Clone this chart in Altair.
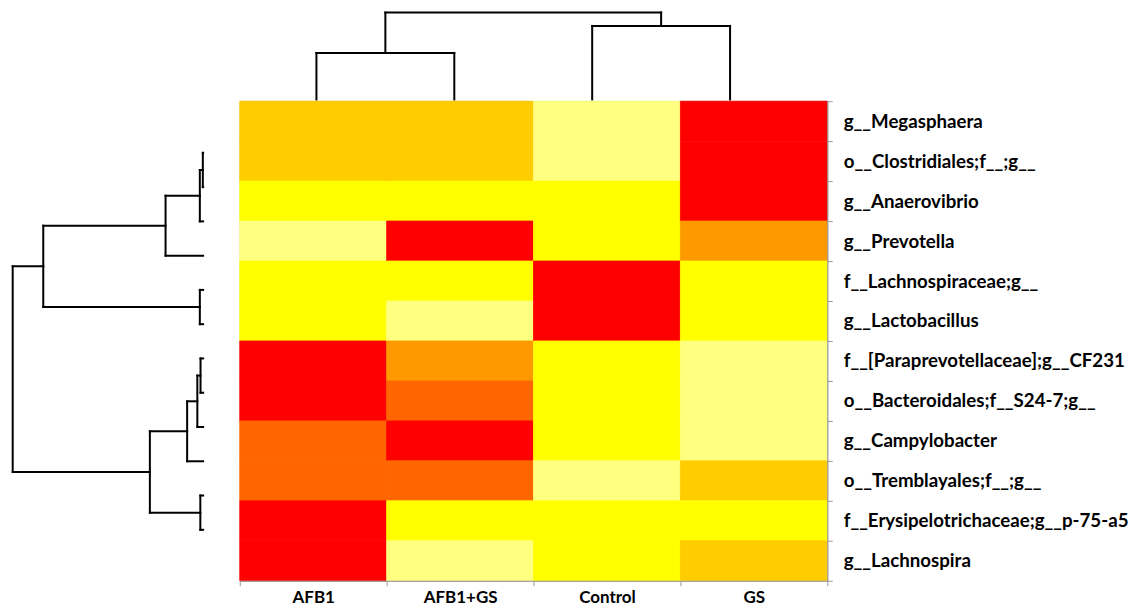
import altair as alt
import pandas as pd

# ---------------- data ----------------
columns = ["AFB1", "AFB1+GS", "Control", "GS"]
taxa = [
    "g__Megasphaera",
    "o__Clostridiales;f__;g__",
    "g__Anaerovibrio",
    "g__Prevotella",
    "f__Lachnospiraceae;g__",
    "g__Lactobacillus",
    "f__[Paraprevotellaceae];g__CF231",
    "o__Bacteroidales;f__S24-7;g__",
    "g__Campylobacter",
    "o__Tremblayales;f__;g__",
    "f__Erysipelotrichaceae;g__p-75-a5",
    "g__Lachnospira",
]
# colour level of each cell (0 = lowest / pale yellow ... 5 = highest / red)
level_afb1 = [2, 2, 1, 0, 1, 1, 5, 5, 4, 4, 5, 5]
level_afb1_gs = [2, 2, 1, 5, 1, 0, 3, 4, 5, 4, 1, 0]
level_control = [0, 0, 1, 1, 5, 5, 1, 1, 1, 0, 1, 1]
level_gs = [5, 5, 5, 3, 1, 1, 0, 0, 0, 2, 1, 2]

levels = [0, 1, 2, 3, 4, 5]
level_colors = ["#FFFF80", "#FFFF00", "#FFCC00", "#FF9900", "#FF6600", "#FF0000"]

# row dendrogram: (left node, right node, merge height); leaves are 0..11
row_left = [0, 12, 13, 4, 14, 6, 17, 18, 10, 19, 16]
row_right = [1, 2, 3, 5, 15, 7, 8, 9, 11, 20, 21]
row_height = [0.3, 3.3, 37.6, 3.3, 160.0, 2.6, 5.8, 16.0, 2.8, 53.3, 190.6]

# column dendrogram: leaves 0..3 (AFB1, AFB1+GS, Control, GS)
col_left = [0, 2, 4]
col_right = [1, 3, 5]
col_height = [46.6, 73.6, 87.0]


def dendro_segments(n_leaves, lefts, rights, heights):
    pos = {i: float(i) for i in range(n_leaves)}
    hgt = {i: 0.0 for i in range(n_leaves)}
    segs = []
    for k, (a, b, h) in enumerate(zip(lefts, rights, heights)):
        node = n_leaves + k
        segs.append(dict(p1=pos[a], p2=pos[b], h1=h, h2=h))
        segs.append(dict(p1=pos[a], p2=pos[a], h1=hgt[a], h2=h))
        segs.append(dict(p1=pos[b], p2=pos[b], h1=hgt[b], h2=h))
        pos[node] = (pos[a] + pos[b]) / 2
        hgt[node] = h
    return pd.DataFrame(segs)


row_segs = dendro_segments(len(taxa), row_left, row_right, row_height)
col_segs = dendro_segments(len(columns), col_left, col_right, col_height)

cells = pd.DataFrame(
    {
        "taxon": taxa * 4,
        "group": sum([[c] * len(taxa) for c in columns], []),
        "level": level_afb1 + level_afb1_gs + level_control + level_gs,
    }
)

FONT = "Lato"
LEFT_W = 232
TOP_H = 93
HEAT_W = 588
HEAT_H = 480

# ---------------- heatmap ----------------
heat = (
    alt.Chart(cells)
    .mark_rect(strokeWidth=0.8)
    .encode(
        x=alt.X(
            "group:N",
            sort=columns,
            scale=alt.Scale(paddingInner=0, paddingOuter=0),
            axis=alt.Axis(
                title=None,
                orient="bottom",
                labelAngle=0,
                labelFont=FONT,
                labelFontWeight="bold",
                labelFontSize=17,
                labelColor="#000000",
                labelPadding=4,
                domainColor="#9a9a9a",
                tickColor="#9a9a9a",
                tickSize=5,
                tickBand="extent",
                grid=False,
            ),
        ),
        y=alt.Y(
            "taxon:N",
            sort=taxa,
            scale=alt.Scale(paddingInner=0, paddingOuter=0),
            axis=alt.Axis(
                title=None,
                orient="right",
                labelFont=FONT,
                labelFontWeight="bold",
                labelFontSize=18.7,
                labelColor="#000000",
                labelPadding=11,
                labelLimit=400,
                domainColor="#9a9a9a",
                tickColor="#9a9a9a",
                tickSize=5,
                tickBand="extent",
                grid=False,
            ),
        ),
        color=alt.Color(
            "level:O",
            scale=alt.Scale(domain=levels, range=level_colors),
            legend=None,
        ),
        stroke=alt.Stroke(
            "level:O",
            scale=alt.Scale(domain=levels, range=level_colors),
            legend=None,
        ),
    )
    .properties(
        width=HEAT_W,
        height=HEAT_H,
        view=alt.ViewBackground(stroke="#9a9a9a", strokeWidth=1),
    )
)

# ---------------- row dendrogram (left) ----------------
left_dendro = (
    alt.Chart(row_segs)
    .mark_rule(color="black", strokeWidth=2, strokeCap="square")
    .encode(
        x=alt.X(
            "h1:Q",
            scale=alt.Scale(domain=[0, 190.6], range=[195.3, 4.7], nice=False, zero=False),
            axis=None,
        ),
        x2="h2:Q",
        y=alt.Y(
            "p1:Q",
            scale=alt.Scale(domain=[0, 11], range=[51.7, 429.0], nice=False, zero=False),
            axis=None,
        ),
        y2="p2:Q",
    )
    .properties(width=LEFT_W, height=HEAT_H, view=alt.ViewBackground(strokeOpacity=0))
)

# ---------------- column dendrogram (top) ----------------
top_dendro = (
    alt.Chart(col_segs)
    .mark_rule(color="black", strokeWidth=2, strokeCap="square")
    .encode(
        x=alt.X(
            "p1:Q",
            scale=alt.Scale(domain=[0, 3], range=[76.7, 490.7], nice=False, zero=False),
            axis=None,
        ),
        x2="p2:Q",
        y=alt.Y(
            "h1:Q",
            scale=alt.Scale(domain=[0, 87.0], range=[91.3, 4.3], nice=False, zero=False),
            axis=None,
        ),
        y2="h2:Q",
    )
    .properties(width=HEAT_W, height=TOP_H, view=alt.ViewBackground(strokeOpacity=0))
)

spacer = (
    alt.Chart(pd.DataFrame({"v": [0]}))
    .mark_point(opacity=0, size=1)
    .encode(x=alt.value(1), y=alt.value(1))
    .properties(width=LEFT_W, height=TOP_H, view=alt.ViewBackground(strokeOpacity=0))
)

chart = (
    alt.concat(spacer, top_dendro, left_dendro, heat, columns=2, spacing=0, bounds="flush")
    .resolve_scale(x="independent", y="independent", color="independent", stroke="independent")
    .properties(padding=0, background="white")
    .configure_concat(spacing=0)
)

chart.save("out.html", embed_options={"renderer": "svg", "actions": False})
